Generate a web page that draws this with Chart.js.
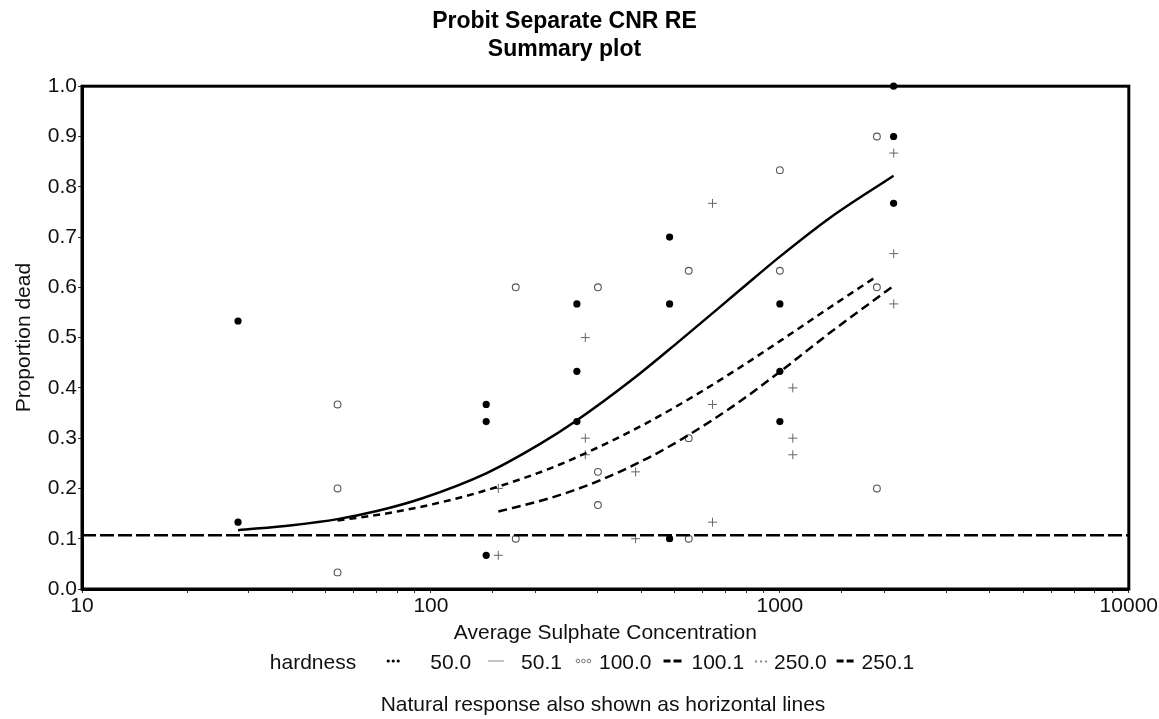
<!DOCTYPE html>
<html>
<head>
<meta charset="utf-8">
<script src="https://cdn.jsdelivr.net/npm/chart.js@4.4.1/dist/chart.umd.min.js"></script>
<style>
  html, body { margin: 0; padding: 0; background: #fff; }
  #wrap { width: 1159px; height: 719px; }
</style>
</head>
<body>
<div id="wrap"><canvas id="chart" width="1159" height="719"></canvas></div>
<script>
var FONT = '"Liberation Sans", Arial, sans-serif';

var titleLines = ['Probit Separate CNR RE', 'Summary plot'];
var xTitle = 'Average Sulphate Concentration';
var yTitle = 'Proportion dead';
var footNote = 'Natural response also shown as horizontal lines';
var xTickLabels = [10, 100, 1000, 10000];
var legendTitle = 'hardness';
var legendNames = ['50.0', '50.1', '100.0', '100.1', '250.0', '250.1'];

// hardness 50.0 - observed (filled dots)
var obs50X = [28, 28, 144, 144, 144, 262, 262, 262, 483, 483, 483, 1000, 1000, 1000, 2118, 2118, 2118];
var obs50Y = [0.533, 0.133, 0.367, 0.333, 0.067, 0.567, 0.433, 0.333, 0.7, 0.567, 0.1, 0.567, 0.433, 0.333, 1.0, 0.9, 0.767];

// hardness 100.0 - observed (open circles)
var obs100X = [54, 54, 54, 175, 175, 301, 301, 301, 548, 548, 548, 1000, 1000, 1897, 1897, 1897];
var obs100Y = [0.367, 0.2, 0.033, 0.6, 0.1, 0.6, 0.233, 0.167, 0.633, 0.3, 0.1, 0.833, 0.633, 0.9, 0.6, 0.2];

// hardness 250.0 - observed (crosses)
var obs250X = [156, 156, 277, 277, 277, 386, 386, 641, 641, 641, 1089, 1089, 1089, 2120, 2120, 2120];
var obs250Y = [0.2, 0.067, 0.5, 0.3, 0.267, 0.233, 0.1, 0.767, 0.367, 0.133, 0.4, 0.3, 0.267, 0.867, 0.667, 0.567];

// fitted curves
var fit50X = [28, 40, 54, 70, 95, 144, 205, 259, 380, 517, 776, 1000, 1390, 2118];
var fit50Y = [0.117, 0.127, 0.139, 0.155, 0.181, 0.230, 0.288, 0.333, 0.418, 0.494, 0.597, 0.661, 0.738, 0.822];
var fit100X = [54, 80, 120, 158, 220, 300, 420, 565, 750, 1000, 1350, 1897];
var fit100Y = [0.136, 0.154, 0.181, 0.205, 0.240, 0.281, 0.332, 0.383, 0.436, 0.493, 0.554, 0.622];
var fit250X = [156, 220, 300, 420, 541, 750, 1000, 1400, 2118];
var fit250Y = [0.154, 0.181, 0.214, 0.261, 0.304, 0.368, 0.432, 0.511, 0.603];

// natural response
var natX = [10, 10000];
var natY = [0.107, 0.107];

function pts(xs, ys) {
  var out = [];
  for (var i = 0; i < xs.length; i++) out.push({ x: xs[i], y: ys[i] });
  return out;
}

function isDecade(v) {
  var l = Math.log10(v);
  return Math.abs(l - Math.round(l)) < 1e-9 && xTickLabels.indexOf(Math.round(v)) >= 0;
}

// frame round the plot area
var framePlugin = {
  id: 'frame',
  afterDatasetsDraw: function (chart) {
    var a = chart.chartArea, ctx = chart.ctx;
    ctx.save();
    ctx.strokeStyle = '#000';
    ctx.lineWidth = 3;
    ctx.strokeRect(a.left, a.top, a.right - a.left, a.bottom - a.top);
    ctx.restore();
  }
};

// legend row and footnote under the axis title
var legendPlugin = {
  id: 'bottomLegend',
  afterDraw: function (chart) {
    var ctx = chart.ctx;
    var y = chart.height - 56;
    ctx.save();
    ctx.font = '21px ' + FONT;
    ctx.fillStyle = '#111';
    ctx.textBaseline = 'middle';
    var glyphW = [14, 16, 17, 18, 15, 17];
    var gapBefore = [30, 17, 13, 12, 9, 10];
    var gapAfter = [30, 17, 7, 10, 6, 8];
    var total = ctx.measureText(legendTitle).width;
    for (var i = 0; i < legendNames.length; i++) {
      total += gapBefore[i] + glyphW[i] + gapAfter[i] + ctx.measureText(legendNames[i]).width;
    }
    var x = 592 - total / 2;
    ctx.fillText(legendTitle, x, y);
    x += ctx.measureText(legendTitle).width;
    for (var j = 0; j < legendNames.length; j++) {
      x += gapBefore[j];
      drawGlyph(ctx, j, x, y, glyphW[j]);
      x += glyphW[j] + gapAfter[j];
      ctx.fillStyle = '#111';
      ctx.fillText(legendNames[j], x, y);
      x += ctx.measureText(legendNames[j]).width;
    }
    ctx.textAlign = 'center';
    ctx.fillText(footNote, 603, chart.height - 14);
    ctx.restore();
  }
};

function drawGlyph(ctx, k, x, y, w) {
  ctx.save();
  var gy = y - 2;
  if (k === 0) {
    ctx.fillStyle = '#000';
    for (var i = 0; i < 3; i++) { ctx.beginPath(); ctx.arc(x + 2 + i * 5, gy, 1.6, 0, Math.PI * 2); ctx.fill(); }
  } else if (k === 1) {
    ctx.strokeStyle = '#888'; ctx.lineWidth = 1;
    ctx.beginPath(); ctx.moveTo(x, gy); ctx.lineTo(x + w, gy); ctx.stroke();
  } else if (k === 2) {
    ctx.strokeStyle = '#777'; ctx.lineWidth = 1;
    for (var m = 0; m < 3; m++) { ctx.beginPath(); ctx.arc(x + 3 + m * 5.5, gy, 1.8, 0, Math.PI * 2); ctx.stroke(); }
  } else if (k === 4) {
    ctx.fillStyle = '#888';
    for (var n = 0; n < 3; n++) { ctx.fillRect(x + 2 + n * 5, gy - 0.5, 2, 2); }
  } else {
    ctx.strokeStyle = '#000'; ctx.lineWidth = 3;
    ctx.beginPath();
    ctx.moveTo(x, gy); ctx.lineTo(x + 7, gy);
    ctx.moveTo(x + 10, gy); ctx.lineTo(x + w, gy);
    ctx.stroke();
  }
  ctx.restore();
}

Chart.defaults.font.family = FONT;
Chart.defaults.color = '#111';

new Chart(document.getElementById('chart'), {
  type: 'line',
  data: {
    datasets: [
      {
        label: 'natural',
        data: pts(natX, natY),
        borderColor: '#000', borderWidth: 2.5, borderDash: [14, 4],
        pointRadius: 0, fill: false
      },
      {
        label: '50.1',
        data: pts(fit50X, fit50Y),
        borderColor: '#000', borderWidth: 2.5,
        pointRadius: 0, fill: false, cubicInterpolationMode: 'monotone'
      },
      {
        label: '100.1',
        data: pts(fit100X, fit100Y),
        borderColor: '#000', borderWidth: 2.5, borderDash: [7, 5],
        pointRadius: 0, fill: false, cubicInterpolationMode: 'monotone'
      },
      {
        label: '250.1',
        data: pts(fit250X, fit250Y),
        borderColor: '#000', borderWidth: 2.5, borderDash: [9, 5],
        pointRadius: 0, fill: false, cubicInterpolationMode: 'monotone'
      },
      {
        label: '50.0',
        data: pts(obs50X, obs50Y),
        showLine: false, clip: false,
        pointStyle: 'circle', pointRadius: 3.6,
        pointBackgroundColor: '#000', pointBorderColor: '#000', pointBorderWidth: 0
      },
      {
        label: '100.0',
        data: pts(obs100X, obs100Y),
        showLine: false, clip: false,
        pointStyle: 'circle', pointRadius: 3.4,
        pointBackgroundColor: '#fff', pointBorderColor: '#555', pointBorderWidth: 1.1
      },
      {
        label: '250.0',
        data: pts(obs250X, obs250Y),
        showLine: false, clip: false,
        pointStyle: 'cross', pointRadius: 4.5,
        pointBorderColor: '#666', pointBorderWidth: 1
      }
    ]
  },
  options: {
    responsive: false,
    animation: false,
    devicePixelRatio: 1,
    layout: { padding: { top: 0, right: 30, bottom: 73, left: 0 } },
    plugins: {
      legend: { display: false },
      tooltip: { enabled: false },
      title: {
        display: true,
        text: titleLines,
        color: '#000',
        font: { family: FONT, size: 23, weight: 'bold' },
        padding: { top: 8, bottom: 23 }
      }
    },
    scales: {
      x: {
        type: 'logarithmic',
        min: 10, max: 10000,
        border: { display: true, color: '#000', width: 3 },
        grid: { display: true, drawOnChartArea: false, drawTicks: true, tickLength: 4, color: '#333' },
        ticks: {
          autoSkip: false, maxRotation: 0, padding: 1, color: '#111',
          font: { family: FONT, size: 21 },
          callback: function (v) { return isDecade(v) ? String(Math.round(v)) : ''; }
        },
        title: {
          display: true, text: xTitle, color: '#111',
          font: { family: FONT, size: 21 }, padding: { top: 0, bottom: 0 }
        },
        afterFit: function (s) { s.height = 57; }
      },
      y: {
        min: 0, max: 1,
        border: { display: true, color: '#000', width: 3 },
        grid: { display: true, drawOnChartArea: false, drawTicks: true, tickLength: 4, color: '#333' },
        ticks: {
          stepSize: 0.1, padding: 1, color: '#111',
          font: { family: FONT, size: 21 },
          callback: function (v) { return v.toFixed(1); }
        },
        title: {
          display: true, text: yTitle, color: '#111',
          font: { family: FONT, size: 21 }, padding: { top: 12, bottom: 0 }
        },
        afterFit: function (s) { s.width = 82; }
      }
    }
  },
  plugins: [framePlugin, legendPlugin]
});
</script>
</body>
</html>
